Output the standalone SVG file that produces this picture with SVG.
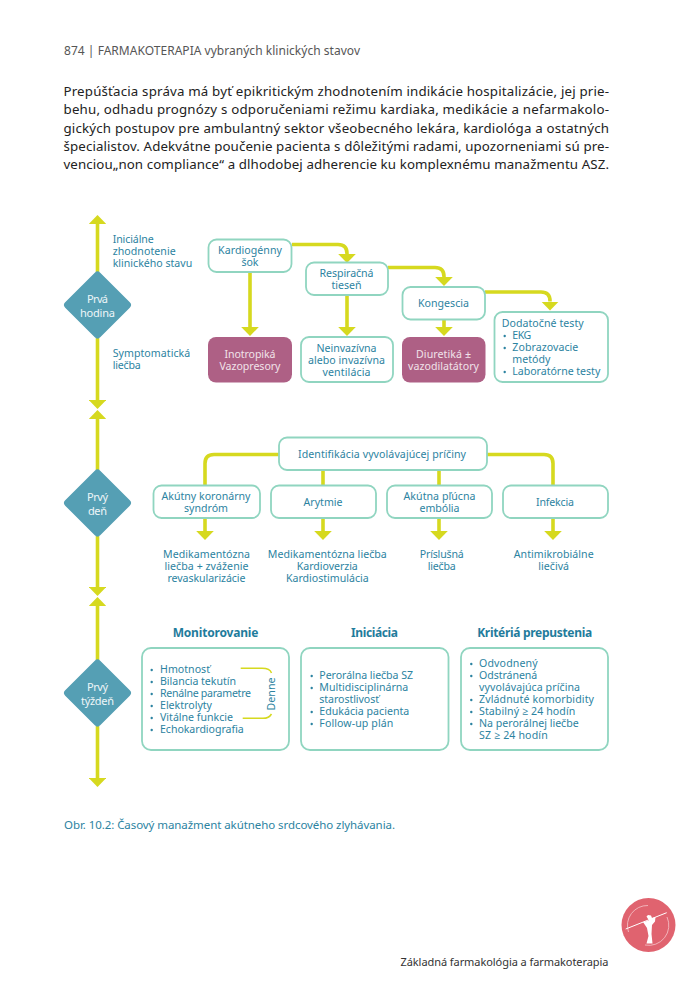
<svg xmlns="http://www.w3.org/2000/svg" width="694" height="1000" viewBox="0 0 694 1000">
<style>
text{font-family:"Noto Sans","Open Sans","Liberation Sans",sans-serif;font-size:10.6px;fill:#2c83a1}
.m{text-anchor:middle}
.w{fill:#eef6f8;font-size:11px}
.dw{fill:#f1e3ea;font-size:10.6px}
.b{font-weight:700;font-size:12px;fill:#1f7c9c}
.p{fill:#222;font-size:13.3px}
.box{fill:#fff;stroke:#90d5c0;stroke-width:1.8}
.drug{fill:#ae6085}
.dia{fill:#559fb4}
.con{fill:none;stroke:#d6d91f;stroke-width:3.6}
.thin{fill:none;stroke:#d6d91f;stroke-width:1.5}
.dot{fill:#2c83a1}
</style>
<defs>
<marker id="ah" markerUnits="userSpaceOnUse" viewBox="0 0 9 17.6" markerWidth="9" markerHeight="17.6" refX="0" refY="8.8" orient="auto"><path d="M0 0L9 8.8L0 17.6Z" fill="#d6d91f"/></marker>
</defs>
<rect width="694" height="1000" fill="#fff"/>
<g id="page-text">
<text x="64" y="55" textLength="296" style="font-size:12px;fill:#565656">874 | FARMAKOTERAPIA vybraných klinických stavov</text>
<text class="p" x="63.500" y="96" textLength="545.500">Prepúšťacia správa má byť epikritickým zhodnotením indikácie hospitalizácie, jej prie-</text>
<text class="p" x="63.500" y="114" textLength="545.500">behu, odhadu prognózy s odporučeniami režimu kardiaka, medikácie a nefarmakolo-</text>
<text class="p" x="63.500" y="132.500" textLength="545.500">gických postupov pre ambulantný sektor všeobecného lekára, kardiológa a ostatných</text>
<text class="p" x="63.500" y="150.500" textLength="545.500">špecialistov. Adekvátne poučenie pacienta s dôležitými radami, upozorneniami sú pre-</text>
<text class="p" x="63.500" y="168.500" textLength="545.500">venciou„non compliance“ a dlhodobej adherencie ku komplexnému manažmentu ASZ.</text>
<text x="64" y="829" textLength="331" style="font-size:11.500px">Obr. 10.2: Časový manažment akútneho srdcového zlyhávania.</text>
<text x="400.500" y="966" textLength="208" style="font-size:11px;fill:#333">Základná farmakológia a farmakoterapia</text>
</g>
<g id="connectors">
<path class="con" d="M97.500 272V224" marker-end="url(#ah)"/>
<path class="con" d="M97.500 338V400" marker-end="url(#ah)"/>
<path class="con" d="M97.500 470V419" marker-end="url(#ah)"/>
<path class="con" d="M97.500 536V587" marker-end="url(#ah)"/>
<path class="con" d="M97.500 660V606" marker-end="url(#ah)"/>
<path class="con" d="M97.500 726V778" marker-end="url(#ah)"/>
<path class="con" d="M292 244.500H338Q347 244.500 347 253.500V254" marker-end="url(#ah)"/>
<path class="con" d="M250 272V327" marker-end="url(#ah)"/>
<path class="con" d="M347 295V327" marker-end="url(#ah)"/>
<path class="con" d="M388 267.500H435Q444 267.500 444 276.500V277" marker-end="url(#ah)"/>
<path class="con" d="M444 319V327" marker-end="url(#ah)"/>
<path class="con" d="M485 292H541Q550 292 550 301V301.500" marker-end="url(#ah)"/>
<path class="con" d="M279 454.500H214Q205 454.500 205 463.500V485"/>
<path class="con" d="M487 454.500H544Q553 454.500 553 463.500V485"/>
<path class="con" d="M323 470V485"/>
<path class="con" d="M439 470V485"/>
<path class="con" d="M205 518V531" marker-end="url(#ah)"/>
<path class="con" d="M323 518V531" marker-end="url(#ah)"/>
<path class="con" d="M439 518V531" marker-end="url(#ah)"/>
<path class="con" d="M553 518V531" marker-end="url(#ah)"/>
</g>
<g id="d-hour"><path class="dia" d="M94.800 272.700Q97.500 270 100.200 272.700L129.800 302.300Q132.500 305 129.800 307.700L100.200 337.300Q97.500 340 94.800 337.300L65.200 307.700Q62.500 305 65.200 302.300Z"/>
<text class="m w" x="97.500" y="303" textLength="21">Prvá</text><text class="m w" x="97.500" y="316.500" textLength="35">hodina</text></g>
<g id="d-day"><path class="dia" d="M94.800 470.700Q97.500 468 100.200 470.700L129.800 500.300Q132.500 503 129.800 505.700L100.200 535.300Q97.500 538 94.800 535.300L65.200 505.700Q62.500 503 65.200 500.300Z"/>
<text class="m w" x="97.500" y="501" textLength="21">Prvý</text><text class="m w" x="97.500" y="514.500" textLength="19">deň</text></g>
<g id="d-week"><path class="dia" d="M94.800 660.700Q97.500 658 100.200 660.700L129.800 690.300Q132.500 693 129.800 695.700L100.200 725.300Q97.500 728 94.800 725.300L65.200 695.700Q62.500 693 65.200 690.300Z"/>
<text class="m w" x="97.500" y="691" textLength="21">Prvý</text><text class="m w" x="97.500" y="704.500" textLength="33">týždeň</text></g>
<g id="label-initial"><text x="112.700" y="242.700" textLength="41">Iniciálne</text><text x="112.700" y="254.700" textLength="63">zhodnotenie</text><text x="112.700" y="266.700" textLength="79.500">klinického stavu</text></g>
<g id="label-symptom"><text x="112.700" y="357" textLength="77.500">Symptomatická</text><text x="112.700" y="369" textLength="28">liečba</text></g>
<g id="n-kardio"><rect class="box" x="208.500" y="239.500" width="83" height="32.500" rx="8"/><text class="m" x="250" y="254" textLength="64">Kardiogénny</text><text class="m" x="250" y="266" textLength="17">šok</text></g>
<g id="n-resp"><rect class="box" x="306" y="262.500" width="82" height="32.500" rx="8"/><text class="m" x="346.500" y="277" textLength="54">Respiračná</text><text class="m" x="346.500" y="289" textLength="30">tieseň</text></g>
<g id="n-kong"><rect class="box" x="402.500" y="287" width="82.500" height="32.500" rx="8"/><text class="m" x="443.500" y="307" textLength="51">Kongescia</text></g>
<g id="n-test"><rect class="box" x="494.500" y="312" width="113.500" height="70" rx="8"/>
<text x="501.700" y="327" textLength="82">Dodatočné testy</text>
<circle class="dot" cx="504.700" cy="336" r="1.200"/><text x="512.300" y="339" textLength="19">EKG</text>
<circle class="dot" cx="504.700" cy="348" r="1.200"/><text x="512.300" y="351" textLength="66">Zobrazovacie</text>
<text x="512.300" y="363" textLength="38">metódy</text>
<circle class="dot" cx="504.700" cy="372" r="1.200"/><text x="512.300" y="375" textLength="88">Laboratórne testy</text></g>
<g id="n-ino"><rect class="drug" x="208" y="337" width="84" height="45.500" rx="8"/><text class="m dw" x="250" y="358" textLength="51">Inotropiká</text><text class="m dw" x="250" y="370" textLength="61">Vazopresory</text></g>
<g id="n-vent"><rect class="box" x="301" y="337" width="92" height="45" rx="8"/><text class="m" x="346.500" y="352" textLength="60">Neinvazívna</text><text class="m" x="346.500" y="364" textLength="77">alebo invazívna</text><text class="m" x="346.500" y="376" textLength="48">ventilácia</text></g>
<g id="n-diur"><rect class="drug" x="402" y="337" width="83.500" height="45.500" rx="8"/><text class="m dw" x="443.500" y="358" textLength="55">Diuretiká ±</text><text class="m dw" x="443.500" y="370" textLength="71">vazodilatátory</text></g>
<g id="n-ident"><rect class="box" x="279" y="437.500" width="208" height="32.500" rx="8"/><text class="m" x="382" y="457.700" textLength="168">Identifikácia vyvolávajúcej príčiny</text></g>
<g id="n-aks"><rect class="box" x="153.500" y="485.500" width="106.500" height="32.500" rx="8"/><text class="m" x="206" y="500" textLength="89">Akútny koronárny</text><text class="m" x="206" y="512" textLength="44">syndróm</text></g>
<g id="n-aryt"><rect class="box" x="271" y="485.500" width="105" height="32.500" rx="8"/><text class="m" x="323" y="506" textLength="39">Arytmie</text></g>
<g id="n-emb"><rect class="box" x="387" y="485.500" width="105" height="32.500" rx="8"/><text class="m" x="439.500" y="500" textLength="72">Akútna pľúcna</text><text class="m" x="439.500" y="512" textLength="40">embólia</text></g>
<g id="n-inf"><rect class="box" x="503" y="485.500" width="105" height="32.500" rx="8"/><text class="m" x="555" y="506" textLength="38">Infekcia</text></g>
<g id="out-aks"><text class="m" x="206.500" y="558" textLength="87">Medikamentózna</text><text class="m" x="206.500" y="570" textLength="84">liečba + zváženie</text><text class="m" x="206.500" y="582" textLength="78">revaskularizácie</text></g>
<g id="out-aryt"><text class="m" x="327.300" y="558" textLength="119">Medikamentózna liečba</text><text class="m" x="327.300" y="570" textLength="61">Kardioverzia</text><text class="m" x="327.300" y="582" textLength="82.700">Kardiostimulácia</text></g>
<g id="out-emb"><text class="m" x="441.700" y="558" textLength="44">Príslušná</text><text class="m" x="441.700" y="570" textLength="28">liečba</text></g>
<g id="out-inf"><text class="m" x="553.700" y="558" textLength="80">Antimikrobiálne</text><text class="m" x="553.700" y="570" textLength="30.700">liečivá</text></g>
<g id="n-mon"><text class="m b" x="215.500" y="637.300" textLength="85.700">Monitorovanie</text><rect class="box" x="142" y="648" width="147" height="102" rx="9"/>
<circle class="dot" cx="151.700" cy="670" r="1.200"/><text x="160" y="673.300" textLength="50">Hmotnosť</text>
<circle class="dot" cx="151.700" cy="682" r="1.200"/><text x="160" y="685.300" textLength="76">Bilancia tekutín</text>
<circle class="dot" cx="151.700" cy="694" r="1.200"/><text x="160" y="697.300" textLength="91">Renálne parametre</text>
<circle class="dot" cx="151.700" cy="706" r="1.200"/><text x="160" y="709.300" textLength="52">Elektrolyty</text>
<circle class="dot" cx="151.700" cy="718" r="1.200"/><text x="160" y="721.300" textLength="73">Vitálne funkcie</text>
<circle class="dot" cx="151.700" cy="730" r="1.200"/><text x="160" y="733.300" textLength="83.700">Echokardiografia</text>
<path class="thin" d="M240.700 668.300H262Q270 668.300 271.500 673"/><path class="thin" d="M242.700 718.300H263Q269 718.300 271.500 714"/>
<text class="m" transform="translate(275 694) rotate(-90)" x="0" y="0" textLength="33">Denne</text></g>
<g id="n-ini"><text class="m b" x="374.500" y="637.300" textLength="47">Iniciácia</text><rect class="box" x="301" y="648" width="147.500" height="102" rx="9"/>
<circle class="dot" cx="311.700" cy="676" r="1.200"/><text x="319.300" y="679.300" textLength="93.700">Perorálna liečba SZ</text>
<circle class="dot" cx="311.700" cy="688" r="1.200"/><text x="319.300" y="691.300" textLength="89">Multidisciplinárna</text>
<text x="319.300" y="703.300" textLength="59.700">starostlivosť</text>
<circle class="dot" cx="311.700" cy="712" r="1.200"/><text x="319.300" y="715.300" textLength="90">Edukácia pacienta</text>
<circle class="dot" cx="311.700" cy="724" r="1.200"/><text x="319.300" y="727.300" textLength="74">Follow-up plán</text></g>
<g id="n-krit"><text class="m b" x="534.700" y="637.300" textLength="115">Kritériá prepustenia</text><rect class="box" x="461" y="648" width="147" height="102" rx="9"/>
<circle class="dot" cx="471.300" cy="664" r="1.200"/><text x="479" y="667.300" textLength="58.700">Odvodnený</text>
<circle class="dot" cx="471.300" cy="676" r="1.200"/><text x="479" y="679.300" textLength="58.300">Odstránená</text>
<text x="479" y="691.300" textLength="101">vyvolávajúca príčina</text>
<circle class="dot" cx="471.300" cy="700" r="1.200"/><text x="479" y="703.300" textLength="115">Zvládnuté komorbidity</text>
<circle class="dot" cx="471.300" cy="712" r="1.200"/><text x="479" y="715.300" textLength="96.300">Stabilný ≥ 24 hodín</text>
<circle class="dot" cx="471.300" cy="724" r="1.200"/><text x="479" y="727.300" textLength="99.700">Na perorálnej liečbe</text>
<text x="479" y="739.300" textLength="68.700">SZ ≥ 24 hodín</text></g>
<g id="logo"><circle cx="648.500" cy="925" r="27" fill="#e0636f"/>
<path d="M628.500 932A20 20 0 0 1 648 905.500" fill="none" stroke="#f5c6cb" stroke-width="0.800"/>
<path d="M667 917A20 20 0 0 1 645 945" fill="none" stroke="#f5c6cb" stroke-width="0.800"/>
<path d="M625.700 929L666.700 912.700" fill="none" stroke="#fff" stroke-width="1"/>
<path d="M643 922L649 920.500L646.500 916.500L648 915L651 915.500L652 918L655.500 917L655 921.500L652 925L651.500 934L652.500 943.500L646.500 943.500L648.500 936L647 928Z" fill="#fff"/></g>
</svg>
